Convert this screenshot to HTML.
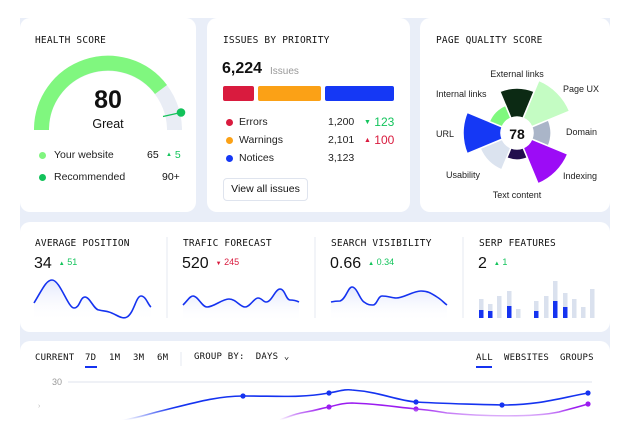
<!DOCTYPE html>
<html><head><meta charset="utf-8"><style>
*{margin:0;padding:0;box-sizing:border-box}
body{width:631px;height:430px;background:#fff;position:relative;overflow:hidden;font-family:"Liberation Sans",sans-serif;color:#111}
.bg{position:absolute;left:20px;top:18px;width:590px;height:412px;background:#e9eef8}
.card{position:absolute;background:#fff;border-radius:10px}
.t{position:absolute;white-space:nowrap}
.mono{font-family:"DejaVu Sans Mono","Liberation Mono",monospace;font-size:9.5px;letter-spacing:0.2px;color:#111}
.s{font-size:10.5px;color:#222}
.dot{position:absolute;width:7px;height:7px;border-radius:50%}
</style></head><body>
<div class="bg"></div>
<div class="card" style="left:20px;top:18px;width:176px;height:194px"></div>
<div class="card" style="left:207px;top:18px;width:203px;height:194px"></div>
<div class="card" style="left:420px;top:18px;width:190px;height:194px"></div>
<div class="card" style="left:20px;top:222px;width:590px;height:110px"></div>
<div class="card" style="left:20px;top:341px;width:590px;height:100px"></div>

<!-- Health -->
<div class="t mono" style="left:35px;top:35px">HEALTH SCORE</div>
<svg style="position:absolute;left:0;top:0" width="631" height="430">
<path d="M41.5 130 A66.5 66.5 0 0 1 174.5 130" fill="none" stroke="#e9edf5" stroke-width="15"/>
<path d="M41.5 130 A66.5 66.5 0 0 1 161 89.5" fill="none" stroke="#80f77f" stroke-width="15"/>
<line x1="163" y1="116.5" x2="181" y2="112.5" stroke="#12c25a" stroke-width="1.2"/>
<circle cx="181" cy="112.5" r="4.3" fill="#12c25a"/>
<!-- polar -->
<g transform="translate(517 133)" stroke="#fff" stroke-width="1.5">
<path transform="rotate(0)" d="M-6.12 -14.78 L-17.22 -41.58 A45 45 0 0 1 17.22 -41.58 L6.12 -14.78 A16 16 0 0 0 -6.12 -14.78Z" fill="#0c2a14"/>
<path transform="rotate(45)" d="M-6.12 -14.78 L-21.81 -52.66 A57 57 0 0 1 21.81 -52.66 L6.12 -14.78 A16 16 0 0 0 -6.12 -14.78Z" fill="#c4fcc3"/>
<path transform="rotate(90)" d="M-6.12 -14.78 L-13.01 -31.41 A34 34 0 0 1 13.01 -31.41 L6.12 -14.78 A16 16 0 0 0 -6.12 -14.78Z" fill="#aab5c8"/>
<path transform="rotate(135)" d="M-6.12 -14.78 L-21.05 -50.81 A55 55 0 0 1 21.05 -50.81 L6.12 -14.78 A16 16 0 0 0 -6.12 -14.78Z" fill="#9c0cf6"/>
<path transform="rotate(180)" d="M-6.12 -14.78 L-10.33 -24.95 A27 27 0 0 1 10.33 -24.95 L6.12 -14.78 A16 16 0 0 0 -6.12 -14.78Z" fill="#220f4e"/>
<path transform="rotate(225)" d="M-6.12 -14.78 L-15.31 -36.96 A40 40 0 0 1 15.31 -36.96 L6.12 -14.78 A16 16 0 0 0 -6.12 -14.78Z" fill="#dbe3ef"/>
<path transform="rotate(270)" d="M-6.12 -14.78 L-20.67 -49.89 A54 54 0 0 1 20.67 -49.89 L6.12 -14.78 A16 16 0 0 0 -6.12 -14.78Z" fill="#1538f5"/>
<path transform="rotate(315)" d="M-6.12 -14.78 L-11.48 -27.72 A30 30 0 0 1 11.48 -27.72 L6.12 -14.78 A16 16 0 0 0 -6.12 -14.78Z" fill="#7ff97e"/>
</g>
<text x="517" y="139" text-anchor="middle" font-family="Liberation Sans" font-weight="bold" font-size="14" fill="#111">78</text>
<g font-family="Liberation Sans" font-size="9" fill="#222">
<text x="517" y="77" text-anchor="middle">External links</text>
<text x="563" y="92">Page UX</text>
<text x="566" y="135">Domain</text>
<text x="563" y="179">Indexing</text>
<text x="517" y="198" text-anchor="middle">Text content</text>
<text x="446" y="178">Usability</text>
<text x="436" y="137">URL</text>
<text x="436" y="97">Internal links</text>
</g>
<!-- sparklines -->
<defs>
<linearGradient id="f" x1="0" y1="0" x2="0" y2="1"><stop offset="0" stop-color="#e3e8fc"/><stop offset="1" stop-color="#fff" stop-opacity="0"/></linearGradient>
<linearGradient id="w" x1="0" y1="0" x2="0" y2="1"><stop offset="0" stop-color="#fff" stop-opacity="0"/><stop offset="1" stop-color="#fff"/></linearGradient>
</defs>
<path d="M34 303 C42 290,46 280,52 280 C60 280,68 308,74 308 C80 308,80 297,85 297 C90 297,94 310,99 310 C103 311,106 311,109 312 C116 314,122 320,127 317 C134 313,136 296,141 296 C146 296,148 305,151 307 L151 322 L34 322Z" fill="url(#f)"/>
<path d="M34 303 C42 290,46 280,52 280 C60 280,68 308,74 308 C80 308,80 297,85 297 C90 297,94 310,99 310 C103 311,106 311,109 312 C116 314,122 320,127 317 C134 313,136 296,141 296 C146 296,148 305,151 307" fill="none" stroke="#1533f0" stroke-width="1.6"/>
<path d="M183 305 C188 300,190 296,193 296 C198 296,202 307,207 307 C214 307,222 299,229 299 C236 299,240 307,245 307 C250 307,254 298,258 298 C262 298,263 302,266 302 C272 302,275 289,280 289 C285 289,286 300,290 300 C295 300,297 301,299 302 L299 322 L183 322Z" fill="url(#f)"/>
<path d="M183 305 C188 300,190 296,193 296 C198 296,202 307,207 307 C214 307,222 299,229 299 C236 299,240 307,245 307 C250 307,254 298,258 298 C262 298,263 302,266 302 C272 302,275 289,280 289 C285 289,286 300,290 300 C295 300,297 301,299 302" fill="none" stroke="#1533f0" stroke-width="1.6"/>
<path d="M331 302 C335 301,337 301,340 301 C346 299,348 287,352 287 C357 287,360 300,364 302 C368 305,370 305,373 305 C377 305,378 296,382 296 C388 296,392 298,396 298 C404 298,413 291,421 291 C429 291,432 294,437 297 C442 300,444 303,447 305 L447 322 L331 322Z" fill="url(#f)"/>
<path d="M331 302 C335 301,337 301,340 301 C346 299,348 287,352 287 C357 287,360 300,364 302 C368 305,370 305,373 305 C377 305,378 296,382 296 C388 296,392 298,396 298 C404 298,413 291,421 291 C429 291,432 294,437 297 C442 300,444 303,447 305" fill="none" stroke="#1533f0" stroke-width="1.6"/>
<g fill="#dae1ee">
<rect x="479" y="299" width="4.5" height="19"/><rect x="488" y="304" width="4.5" height="14"/><rect x="497" y="296" width="4.5" height="22"/><rect x="507" y="291" width="4.5" height="27"/><rect x="516" y="309" width="4.5" height="9"/>
<rect x="534" y="301" width="4.5" height="17"/><rect x="544" y="296" width="4.5" height="22"/><rect x="553" y="281" width="4.5" height="37"/><rect x="563" y="293" width="4.5" height="25"/><rect x="572" y="299" width="4.5" height="19"/><rect x="581" y="307" width="4.5" height="11"/><rect x="590" y="289" width="4.5" height="29"/>
</g>
<g fill="#1533f0">
<rect x="479" y="310" width="4.5" height="8"/><rect x="488" y="311" width="4.5" height="7"/><rect x="507" y="306" width="4.5" height="12"/><rect x="534" y="311" width="4.5" height="7"/><rect x="553" y="301" width="4.5" height="17"/><rect x="563" y="307" width="4.5" height="11"/>
</g>
<line x1="167" y1="237" x2="167" y2="318" stroke="#e6eaf2"/>
<line x1="315" y1="237" x2="315" y2="318" stroke="#e6eaf2"/>
<line x1="463" y1="237" x2="463" y2="318" stroke="#e6eaf2"/>
<line x1="181" y1="352" x2="181" y2="366" stroke="#e6eaf2"/>
<!-- bottom chart -->
<line x1="68" y1="382" x2="592" y2="382" stroke="#dfe3ec"/>
<text x="52" y="385" font-family="Liberation Sans" font-size="9" fill="#999">30</text>
<text x="38" y="408" font-family="Liberation Sans" font-size="7" fill="#bbb">›</text>
<path d="M100 425 C130 420,150 414,157 412 C190 404,215 396,243 396 C280 396,300 398,329 393 C340 391,345 389,352 390 C380 392,395 400,416 402 C450 404,470 404,502 405 C540 405,560 398,588 393" fill="none" stroke="#1533f0" stroke-width="1.6"/>
<path d="M280 420 C295 414,300 413,306 412 C318 410,322 408,329 407 C340 404,345 403,352 403 C380 404,395 407,416 409 C430 410,440 412,447 413 C480 416,530 418,559 412 C570 409,578 407,588 404" fill="none" stroke="#9b1cf0" stroke-width="1.6"/>
<g fill="#1533f0"><circle cx="243" cy="396" r="2.6"/><circle cx="329" cy="393" r="2.6"/><circle cx="416" cy="402" r="2.6"/><circle cx="502" cy="405" r="2.6"/><circle cx="588" cy="393" r="2.6"/></g>
<g fill="#9b1cf0"><circle cx="329" cy="407" r="2.6"/><circle cx="416" cy="409" r="2.6"/><circle cx="588" cy="404" r="2.6"/></g>
<rect x="0" y="408" width="631" height="12" fill="url(#w)"/>
<rect x="0" y="420" width="631" height="10" fill="#fff"/>
</svg>
<div class="t" style="left:70px;top:86px;width:76px;text-align:center;font-size:25px;font-weight:bold">80</div>
<div class="t" style="left:70px;top:117px;width:76px;text-align:center;font-size:12.5px">Great</div>
<div class="dot" style="left:39px;top:152px;background:#80f57f"></div>
<div class="t s" style="left:54px;top:149px">Your website</div>
<div class="t s" style="left:147px;top:149px;color:#111">65</div>
<div class="t" style="left:166px;top:149px;font-size:10.5px;color:#14c45c"><span style="font-size:6px;vertical-align:2px">▲</span> 5</div>
<div class="dot" style="left:39px;top:174px;background:#12c25a"></div>
<div class="t s" style="left:54px;top:171px">Recommended</div>
<div class="t s" style="left:162px;top:171px;color:#111">90+</div>

<!-- Issues -->
<div class="t mono" style="left:223px;top:35px">ISSUES BY PRIORITY</div>
<div class="t" style="left:222px;top:60px;font-size:16px;font-weight:bold">6,224</div>
<div class="t" style="left:270px;top:66px;font-size:10px;color:#999">Issues</div>
<div style="position:absolute;left:223px;top:86px;width:31px;height:15px;background:#d91b3e;border-radius:2px"></div>
<div style="position:absolute;left:258px;top:86px;width:63px;height:15px;background:#fba116;border-radius:2px"></div>
<div style="position:absolute;left:325px;top:86px;width:69px;height:15px;background:#1538f5;border-radius:2px"></div>
<div class="dot" style="left:226px;top:119px;background:#d91b3e"></div>
<div class="dot" style="left:226px;top:137px;background:#fba116"></div>
<div class="dot" style="left:226px;top:155px;background:#1538f5"></div>
<div class="t s" style="left:239px;top:116px">Errors</div>
<div class="t s" style="left:239px;top:134px">Warnings</div>
<div class="t s" style="left:239px;top:152px">Notices</div>
<div class="t s" style="left:328px;top:116px">1,200</div>
<div class="t s" style="left:328px;top:134px">2,101</div>
<div class="t s" style="left:328px;top:152px">3,123</div>
<div class="t" style="left:364px;top:115px;font-size:12px;color:#14c45c"><span style="font-size:7px;vertical-align:2px">▼</span> 123</div>
<div class="t" style="left:364px;top:133px;font-size:12px;color:#d91b3e"><span style="font-size:7px;vertical-align:2px">▲</span> 100</div>
<div style="position:absolute;left:223px;top:178px;width:85px;height:23px;border:1px solid #dfe4ee;border-radius:4px;font-size:10.5px;text-align:center;line-height:21px">View all issues</div>

<div class="t mono" style="left:436px;top:35px">PAGE QUALITY SCORE</div>

<!-- row2 -->
<div class="t mono" style="left:35px;top:238px">AVERAGE POSITION</div>
<div class="t mono" style="left:183px;top:238px">TRAFIC FORECAST</div>
<div class="t mono" style="left:331px;top:238px">SEARCH VISIBILITY</div>
<div class="t mono" style="left:479px;top:238px">SERP FEATURES</div>
<div class="t" style="left:34px;top:255px;font-size:16px">34 <span style="font-size:9px;color:#14c45c;vertical-align:3px">&nbsp;<span style="font-size:6px">▲</span> 51</span></div>
<div class="t" style="left:182px;top:255px;font-size:16px">520 <span style="font-size:9px;color:#d91b3e;vertical-align:3px">&nbsp;<span style="font-size:6px">▼</span> 245</span></div>
<div class="t" style="left:330px;top:255px;font-size:16px">0.66 <span style="font-size:9px;color:#14c45c;vertical-align:3px">&nbsp;<span style="font-size:6px">▲</span> 0.34</span></div>
<div class="t" style="left:478px;top:255px;font-size:16px">2 <span style="font-size:9px;color:#14c45c;vertical-align:3px">&nbsp;<span style="font-size:6px">▲</span> 1</span></div>

<!-- row3 tabs -->
<div class="t mono" style="left:35px;top:353px;font-size:9px">CURRENT</div>
<div class="t mono" style="left:85px;top:353px;font-size:9px">7D</div>
<div style="position:absolute;left:85px;top:366px;width:12px;height:1.5px;background:#1533f0"></div>
<div class="t mono" style="left:109px;top:353px;font-size:9px">1M</div>
<div class="t mono" style="left:133px;top:353px;font-size:9px">3M</div>
<div class="t mono" style="left:157px;top:353px;font-size:9px">6M</div>
<div class="t mono" style="left:194px;top:352px;font-size:9px">GROUP BY: &nbsp;DAYS &#8964;</div>
<div class="t mono" style="left:476px;top:353px;font-size:9px">ALL</div>
<div style="position:absolute;left:476px;top:366px;width:16px;height:1.5px;background:#1533f0"></div>
<div class="t mono" style="left:504px;top:353px;font-size:9px">WEBSITES</div>
<div class="t mono" style="left:560px;top:353px;font-size:9px">GROUPS</div>
</body></html>
